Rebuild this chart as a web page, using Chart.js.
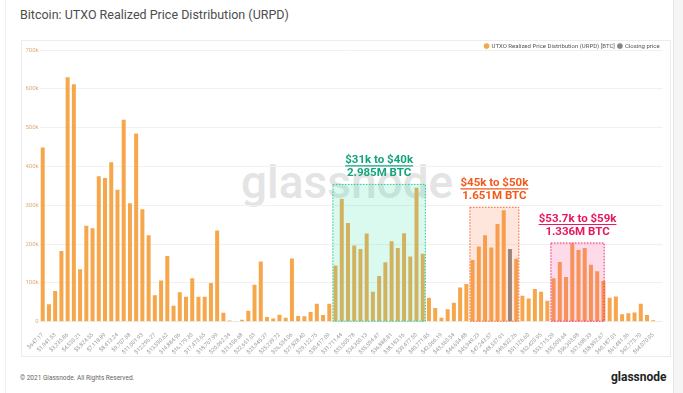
<!DOCTYPE html>
<html><head><meta charset="utf-8">
<script src="https://cdn.jsdelivr.net/npm/chart.js@4.4.1/dist/chart.umd.min.js"></script>
<style>
html,body{margin:0;padding:0;background:#fff;width:683px;height:393px;overflow:hidden;font-family:Roboto,'Noto Sans',sans-serif;}
#frame{position:absolute;left:5px;top:0;width:667px;height:393px;border-left:1px solid #efefef;border-right:1px solid #e6e6e6;}
#side{position:absolute;left:674px;top:0;width:9px;height:393px;background:#f5f5f5;}
#title{position:absolute;left:20px;top:7px;font-size:12.5px;color:#4d4d4d;white-space:nowrap;}
#card{position:absolute;left:21px;top:40px;width:648px;height:315px;border:1px solid #ececec;}
#wm{position:absolute;left:241px;top:159px;font-size:46px;line-height:46px;font-weight:500;color:#e4e4e4;white-space:nowrap;letter-spacing:0px;}
#c{position:absolute;left:21px;top:40px;}
#foot{position:absolute;left:20px;top:374px;font-size:6.5px;color:#666;white-space:nowrap;}
#logo{position:absolute;left:611px;top:370px;font-size:12px;font-weight:700;color:#222;white-space:nowrap;}
</style></head>
<body>
<div id="frame"></div><div id="side"></div>
<div id="title">Bitcoin: UTXO Realized Price Distribution (URPD)</div>
<div id="card"></div>
<div id="wm">glassnode</div>
<canvas id="c" width="649" height="316"></canvas>
<div id="foot">© 2021 Glassnode. All Rights Reserved.</div>
<div id="logo">glassnode</div>
<script>
const priceBins = ["$647.17","$1,294.34","$1,941.53","$2,588.69","$3,235.86","$3,883.03","$4,530.21","$5,177.38","$5,824.55","$6,471.72",
"$7,118.89","$7,766.07","$8,413.24","$9,060.41","$9,707.58","$10,354.76","$11,001.93","$11,649.10","$12,296.27","$12,943.44",
"$13,590.62","$14,237.79","$14,884.96","$15,532.13","$16,179.30","$16,826.48","$17,473.65","$18,120.82","$18,767.99","$19,415.17",
"$20,062.34","$20,709.51","$21,356.68","$22,003.85","$22,651.03","$23,298.20","$23,945.37","$24,592.54","$25,239.72","$25,886.89",
"$26,534.06","$27,181.23","$27,828.40","$28,475.58","$29,122.75","$29,769.92","$30,417.09","$31,064.27","$31,711.44","$32,358.61",
"$33,005.78","$33,652.95","$34,300.13","$34,947.30","$35,594.47","$36,241.64","$36,888.81","$37,535.99","$38,183.16","$38,830.33",
"$39,477.50","$40,124.68","$40,771.85","$41,419.02","$42,066.19","$42,713.37","$43,360.54","$44,007.71","$44,654.88","$45,302.05",
"$45,949.23","$46,596.40","$47,243.57","$47,890.74","$48,537.91","$49,185.09","$49,832.26","$50,479.43","$51,126.60","$51,773.78",
"$52,420.95","$53,068.12","$53,715.29","$54,362.46","$55,009.64","$55,656.81","$56,303.98","$56,951.15","$57,598.33","$58,245.50",
"$58,892.67","$59,539.84","$60,187.01","$60,834.19","$61,481.36","$62,128.53","$62,775.70","$63,422.88","$64,070.05","$64,717.22"];

const urpdBTC = [449000,45000,79000,182000,630000,612000,135000,247000,241000,375000,
370000,411000,340000,520000,305000,485000,290000,223000,68000,106000,
169000,41000,76000,64000,112000,64000,64000,100000,235000,23000,
3000,2000,5000,28000,95000,155000,12000,8000,18000,10000,
163000,15000,14000,25000,46000,17000,46000,145000,316000,254000,
196000,187000,227000,77000,118000,153000,207000,190000,228000,168000,
345000,175000,62000,35000,10000,32000,49000,88000,97000,159000,
194000,223000,191000,252000,287000,187000,162000,67000,60000,84000,
77000,54000,112000,154000,115000,202000,185000,190000,147000,130000,
105000,62000,65000,19000,22000,24000,46000,17000,4000,2000];

const closingBin = 75;
const yTicks = ["0","100k","200k","300k","400k","500k","600k","700k"];

const clusterRanges = [[46.5, 61.5], [68.5, 76.5], [81.5, 90.2]];
const clusterTops = [355000, 296000, 204000];
const clusterTitles = ["$31k to $40k", "$45k to $50k", "$53.7k to $59k"];
const clusterTotals = ["2.985M BTC", "1.651M BTC", "1.336M BTC"];
const clusterStyles = [
  {fill:'rgba(70,228,178,0.20)', stroke:'#2cc79f', text:'#14a47c'},
  {fill:'rgba(255,130,80,0.20)', stroke:'#f26a3a', text:'#f25a1c'},
  {fill:'rgba(255,70,140,0.20)', stroke:'#e8306f', text:'#e5195b'}
];

const clusterPlugin = {
  id:'clusters',
  afterDatasetsDraw(chart){
    const ctx = chart.ctx, xs = chart.scales.x, ys = chart.scales.y;
    const p0 = xs.getPixelForValue(0), p1 = xs.getPixelForValue(1);
    const px = v => p0 + v*(p1-p0);
    const bottom = ys.getPixelForValue(0);
    ctx.save();
    clusterRanges.forEach((r,k)=>{
      const st = clusterStyles[k];
      const l = px(r[0]), rr = px(r[1]), t = ys.getPixelForValue(clusterTops[k]);
      ctx.fillStyle = st.fill;
      ctx.fillRect(l, t, rr-l, bottom-t);
      ctx.strokeStyle = st.stroke; ctx.lineWidth = 1; ctx.setLineDash([1.5,1.5]);
      ctx.strokeRect(l+0.5, t+0.5, rr-l-1, bottom-t-1);
      ctx.setLineDash([]);
      const cx = (l+rr)/2;
      ctx.fillStyle = st.text; ctx.textAlign='center'; ctx.textBaseline='alphabetic';
      ctx.font = 'bold 11.5px Roboto, sans-serif';
      const y1 = t-21, y2 = t-7.5;
      ctx.fillText(clusterTitles[k], cx, y1);
      ctx.fillText(clusterTotals[k], cx, y2);
      const w = ctx.measureText(clusterTitles[k]).width;
      ctx.strokeStyle = st.text; ctx.lineWidth = 1.2;
      ctx.beginPath(); ctx.moveTo(cx-w/2, y1+3); ctx.lineTo(cx+w/2, y1+3); ctx.stroke();
    });
    ctx.restore();
  }
};

const legendFit = {
  id:'legendFit',
  beforeInit(chart){
    const orig = chart.legend.fit;
    chart.legend.fit = function(){ orig.call(this); this.height = 10; };
  }
};

const urpdData = urpdBTC.map((v,i)=> i===closingBin ? null : v);
const closeData = urpdBTC.map((v,i)=> i===closingBin ? v : null);

new Chart(document.getElementById('c'), {
  type:'bar',
  data:{
    labels: priceBins,
    datasets:[
      {label:'UTXO Realized Price Distribution (URPD) [BTC]', data:urpdData, backgroundColor:'#f6a64b', grouped:false, barPercentage:0.64, categoryPercentage:1},
      {label:'Closing price', data:closeData, backgroundColor:'#858585', grouped:false, barPercentage:0.64, categoryPercentage:1}
    ]
  },
  options:{
    responsive:false, animation:false, devicePixelRatio:1,
    layout:{padding:{left:0,right:7.4,top:0,bottom:0}},
    plugins:{
      tooltip:{enabled:false},
      legend:{position:'top', align:'end',
        labels:{usePointStyle:true, pointStyle:'circle', boxWidth:4, boxHeight:4, padding:3, color:'#555', font:{size:6, family:'Roboto'}}}
    },
    scales:{
      x:{
        grid:{display:false}, border:{display:false},
        ticks:{autoSkip:false, minRotation:45, maxRotation:45, padding:2, color:'#a0a0a0', font:{size:5.5, family:'Roboto'},
          callback:(v,i)=> i%2===0 ? priceBins[i] : ''},
        afterFit:s=>{s.height = 34.3;}
      },
      y:{
        min:0, max:700000,
        grid:{color:'#f1f1f1', drawTicks:false}, border:{display:false},
        ticks:{stepSize:100000, padding:1, color:'#e2ab74', font:{size:6, family:'Roboto'},
          callback:(v)=> yTicks[Math.round(v/100000)]},
        afterFit:s=>{s.width = 18.6;}
      }
    }
  },
  plugins:[clusterPlugin, legendFit]
});
</script>
</body></html>
